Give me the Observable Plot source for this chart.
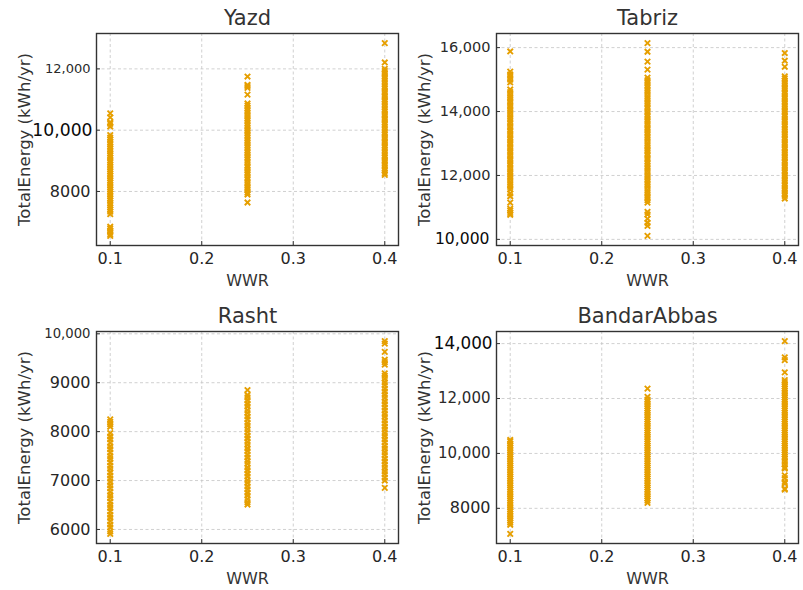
<!DOCTYPE html>
<html><head><meta charset="utf-8">
<script src="https://cdn.jsdelivr.net/npm/d3@7"></script>
<script src="https://cdn.jsdelivr.net/npm/@observablehq/plot@0.6"></script>
<style>
body{margin:0;background:#fff;}
#wrap{position:relative;width:803px;height:590px;font-family:"DejaVu Sans",sans-serif;}
.p{position:absolute;}
</style></head><body><div id="wrap"></div>
<script>
const wwrLevels = [0.1, 0.25, 0.4];
const xTicks = [0.1, 0.2, 0.3, 0.4];
const xLabel = "WWR";
const yLabel = "TotalEnergy (kWh/yr)";

const yazd01 = [6552, 6610, 6680, 6720, 6790, 6850, 7262, 7340, 7410, 7480, 7555, 7620, 7700, 7770, 7850, 7920, 7990, 8065, 8140, 8210, 8290, 8360, 8430, 8510, 8580, 8650, 8730, 8800, 8870, 8950, 9020, 9100, 9170, 9240, 9320, 9390, 9460, 9540, 9610, 9690, 9760, 9838, 10120, 10210, 10260, 10420, 10550];
const yazd025 = [7640, 7900, 7960, 8050, 8130, 8210, 8290, 8380, 8450, 8540, 8620, 8700, 8790, 8860, 8950, 9030, 9110, 9190, 9270, 9350, 9430, 9510, 9590, 9670, 9750, 9830, 9910, 9990, 10070, 10150, 10230, 10310, 10390, 10470, 10560, 10640, 10720, 10800, 10870, 11160, 11380, 11440, 11480, 11750];
const yazd04 = [8540, 8600, 8680, 8760, 8850, 8930, 9010, 9100, 9180, 9260, 9350, 9430, 9510, 9600, 9680, 9760, 9850, 9930, 10010, 10100, 10180, 10260, 10350, 10430, 10510, 10600, 10680, 10760, 10850, 10930, 11010, 11100, 11180, 11260, 11350, 11430, 11510, 11600, 11680, 11760, 11850, 11930, 12000, 12210, 12840];

const tabriz01 = [10770, 10830, 10900, 10960, 11150, 11350, 11440, 11560, 11640, 11720, 11800, 11890, 11970, 12050, 12130, 12210, 12300, 12380, 12460, 12540, 12630, 12710, 12790, 12870, 12960, 13040, 13120, 13200, 13290, 13370, 13450, 13530, 13620, 13700, 13780, 13860, 13950, 14030, 14110, 14190, 14280, 14360, 14440, 14520, 14610, 14690, 14910, 15000, 15080, 15160, 15250, 15880];
const tabriz025 = [10110, 10420, 10520, 10640, 10780, 10860, 11150, 11230, 11310, 11390, 11470, 11550, 11640, 11720, 11800, 11880, 11960, 12040, 12130, 12210, 12290, 12370, 12450, 12530, 12620, 12700, 12780, 12860, 12940, 13020, 13110, 13190, 13270, 13350, 13430, 13510, 13600, 13680, 13760, 13840, 13920, 14000, 14090, 14170, 14250, 14330, 14410, 14490, 14580, 14660, 14740, 14820, 14900, 14980, 15060, 15310, 15560, 15870, 16140];
const tabriz04 = [11280, 11360, 11440, 11520, 11600, 11680, 11760, 11840, 11920, 12000, 12080, 12160, 12240, 12320, 12400, 12480, 12560, 12640, 12720, 12800, 12880, 12960, 13040, 13120, 13200, 13280, 13360, 13440, 13520, 13600, 13680, 13760, 13840, 13920, 14000, 14080, 14160, 14240, 14320, 14400, 14480, 14560, 14640, 14720, 14800, 14880, 14960, 15040, 15100, 15400, 15590, 15830];

const rasht01 = [5910, 5960, 6040, 6100, 6170, 6240, 6300, 6370, 6440, 6500, 6570, 6640, 6700, 6770, 6840, 6900, 6970, 7040, 7100, 7170, 7240, 7300, 7370, 7440, 7500, 7570, 7640, 7700, 7770, 7840, 7900, 7970, 8100, 8150, 8200, 8250];
const rasht025 = [6510, 6560, 6620, 6690, 6750, 6820, 6880, 6950, 7010, 7080, 7140, 7210, 7270, 7340, 7400, 7470, 7530, 7600, 7660, 7730, 7790, 7860, 7920, 7990, 8050, 8120, 8180, 8250, 8310, 8380, 8440, 8510, 8570, 8640, 8700, 8750, 8850];
const rasht04 = [6850, 7000, 7060, 7130, 7190, 7260, 7320, 7390, 7450, 7520, 7580, 7650, 7710, 7780, 7840, 7910, 7970, 8040, 8100, 8170, 8230, 8300, 8360, 8430, 8490, 8560, 8620, 8690, 8750, 8820, 8880, 8950, 9010, 9080, 9140, 9190, 9370, 9420, 9470, 9630, 9800, 9850];

const bandar01 = [7070, 7400, 7480, 7560, 7640, 7720, 7800, 7880, 7960, 8040, 8120, 8200, 8280, 8360, 8440, 8520, 8600, 8680, 8760, 8840, 8920, 9000, 9080, 9160, 9240, 9320, 9400, 9480, 9560, 9640, 9720, 9800, 9880, 9960, 10040, 10120, 10200, 10280, 10360, 10440, 10490];
const bandar025 = [8200, 8280, 8360, 8440, 8520, 8600, 8680, 8760, 8840, 8920, 9000, 9080, 9160, 9240, 9320, 9400, 9480, 9560, 9640, 9720, 9800, 9880, 9960, 10040, 10120, 10200, 10280, 10360, 10440, 10520, 10600, 10680, 10760, 10840, 10920, 11000, 11080, 11160, 11240, 11320, 11400, 11480, 11560, 11640, 11720, 11800, 11880, 11960, 12060, 12360];
const bandar04 = [8680, 8720, 8900, 8960, 9100, 9200, 9450, 9500, 9600, 9700, 9800, 9880, 9960, 10040, 10120, 10200, 10280, 10360, 10440, 10520, 10600, 10680, 10760, 10840, 10920, 11000, 11080, 11160, 11240, 11320, 11400, 11480, 11560, 11640, 11720, 11800, 11880, 11960, 12040, 12120, 12200, 12280, 12360, 12440, 12520, 12600, 12670, 12950, 13400, 13500, 14090];

const cityNames = ["Yazd", "Tabriz", "Rasht", "BandarAbbas"];
const cityYTicks = [[8000, 10000, 12000], [10000, 12000, 14000, 16000], [6000, 7000, 8000, 9000, 10000], [8000, 10000, 12000, 14000]];
const cityBigTicks = [[10000], [10000], [], [14000]];
const citySeries = [[yazd01, yazd025, yazd04], [tabriz01, tabriz025, tabriz04], [rasht01, rasht025, rasht04], [bandar01, bandar025, bandar04]];

const layout = [
  {left: 0, top: 0, width: 400, mt: 33, mb: 50, mr: 2, commaSize: 13, bigSize: 17.2, bigPad: 4},
  {left: 400, top: 0, width: 403, mt: 33, mb: 50, mr: 5, commaSize: 14.5, bigSize: 15.6, bigPad: 7},
  {left: 0, top: 295, width: 400, mt: 36, mb: 47, mr: 2, commaSize: 13.2, bigSize: 16, bigPad: 5},
  {left: 400, top: 295, width: 403, mt: 36, mb: 47, mr: 5, commaSize: 15, bigSize: 16.8, bigPad: 4}
];

const fmt = d => d >= 10000 ? d3.format(",")(d) : String(d);
const ink = "#333";
const orange = "#e69f00";

cityNames.forEach((name, i) => {
  const L = layout[i];
  const H = 295, ML = 96;
  const pw = L.width - ML - L.mr, ph = H - L.mt - L.mb;
  const rows = citySeries[i].flatMap((vals, j) => vals.map(v => ({wwr: wwrLevels[j], energy: v})));
  const [lo, hi] = d3.extent(rows, d => d.energy);
  const pad = (hi - lo) * 0.05;
  const ticks = cityYTicks[i];
  const big = cityBigTicks[i];
  const small = ticks.filter(t => t < 10000 && !big.includes(t));
  const comma = ticks.filter(t => t >= 10000 && !big.includes(t));
  const chart = Plot.plot({
    width: L.width, height: H,
    marginLeft: ML, marginRight: L.mr, marginTop: L.mt, marginBottom: L.mb,
    style: {fontFamily: "DejaVu Sans, sans-serif", background: "transparent", overflow: "visible"},
    x: {domain: [0.085, 0.415]},
    y: {domain: [lo - pad, hi + pad]},
    marks: [
      Plot.gridX(xTicks, {stroke: "#c4c4c4", strokeOpacity: 1, strokeWidth: 0.8, strokeDasharray: "3,2.5"}),
      Plot.gridY(ticks, {stroke: "#c4c4c4", strokeOpacity: 1, strokeWidth: 0.8, strokeDasharray: "3,2.5"}),
      Plot.dot(rows, {x: "wwr", y: "energy", symbol: "times", stroke: orange, r: 2.6, strokeWidth: 1.9}),
      Plot.frame({stroke: ink, strokeWidth: 1.4}),
      Plot.tickX(xTicks, {x: d => d, insetTop: ph - 4, stroke: ink, strokeWidth: 1}),
      Plot.tickY(ticks, {y: d => d, insetRight: pw - 4, stroke: ink, strokeWidth: 1}),
      Plot.axisX(xTicks, {tickSize: 0, tickPadding: 7, fontSize: 16, fill: "#262626", tickFormat: d => String(d), label: null}),
      Plot.axisY(small, {tickSize: 0, tickPadding: 6, fontSize: 16, fill: "#262626", tickFormat: fmt, label: null}),
      Plot.axisY(comma, {tickSize: 0, tickPadding: 6, fontSize: L.commaSize, fill: "#2a2a2a", tickFormat: fmt, label: null}),
      Plot.axisY(big, {tickSize: 0, tickPadding: L.bigPad, fontSize: L.bigSize, fill: "#0a0a0a", stroke: "#0a0a0a", strokeWidth: 0.35, tickFormat: fmt, label: null}),
      Plot.text([name], {text: d => d, frameAnchor: "top", lineAnchor: "middle", textAnchor: "middle", dy: -15, fontSize: 21, fill: ink}),
      Plot.text([xLabel], {text: d => d, frameAnchor: "bottom", lineAnchor: "middle", textAnchor: "middle", dy: 35, fontSize: 16, fill: ink}),
      Plot.text([yLabel], {text: d => d, frameAnchor: "left", lineAnchor: "middle", textAnchor: "middle", rotate: -90, dx: -72, fontSize: 16.5, fill: ink})
    ]
  });
  const div = document.createElement("div");
  div.className = "p";
  div.style.left = L.left + "px";
  div.style.top = L.top + "px";
  div.appendChild(chart);
  document.getElementById("wrap").appendChild(div);
});
</script>
</body></html>
